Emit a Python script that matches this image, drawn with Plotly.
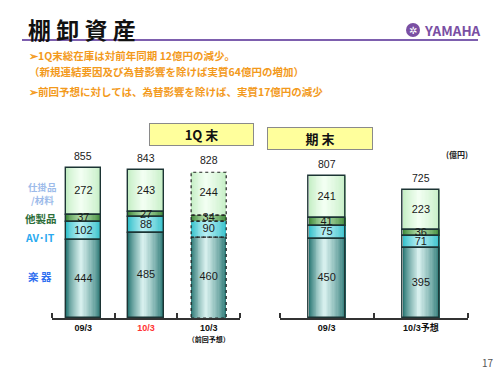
import plotly.graph_objects as go

# ---------------- data ----------------
segments = ["楽器", "AV・IT", "他製品", "仕掛品/材料"]

q1_labels = ["09/3", "<span style='color:#ff3333'>10/3</span>",
             "10/3<br><span style='font-size:7px'>（前回予想）</span>"]
q1_gakki = [444, 485, 460]
q1_avit = [102, 88, 90]
q1_other = [37, 27, 34]
q1_wip = [272, 243, 244]
q1_total = [855, 843, 828]
q1_dashed = [False, False, True]

fy_labels = ["09/3", "10/3予想"]
fy_gakki = [450, 395]
fy_avit = [75, 71]
fy_other = [41, 36]
fy_wip = [241, 223]
fy_total = [807, 725]
fy_dashed = [False, False]

# ---------------- style ----------------
JP = "Arial, 'Liberation Sans', 'Noto Sans CJK JP', sans-serif"
SEG_COLORS = [("#2a7774", "#d6efed"),   # 楽器
              ("#33bfca", "#b6eff3"),   # AV-IT
              ("#3f8a3a", "#b2dcaa"),   # 他製品
              ("#c4eec4", "#f2fff2")]   # 仕掛品
OUTLINE = "#1c3434"
NL = 16


def hex2rgb(h):
    h = h.lstrip("#")
    return [int(h[i:i + 2], 16) for i in (0, 2, 4)]


def mix(a, b, t):
    ca, cb = hex2rgb(a), hex2rgb(b)
    return "rgb(%d,%d,%d)" % tuple(round(ca[i] + (cb[i] - ca[i]) * t) for i in range(3))


fig = go.Figure()
shapes = []


def add_panel(xa, ya, series, totals, dashed, width):
    n = len(totals)
    xs = list(range(n))
    bases = []
    b = [0] * n
    for vals in series:
        bases.append(list(b))
        b = [b[i] + vals[i] for i in range(n)]
    # gradient fills
    for vals, base, (edge, center) in zip(series, bases, SEG_COLORS):
        for k in range(NL):
            wk = width * (1 - k / NL)
            t = (k / (NL - 1)) ** 0.8
            off = -width / 2 + 0.42 * (width - wk)
            fig.add_trace(go.Bar(x=xs, y=vals, base=base, width=wk, offset=off,
                                 marker=dict(color=mix(edge, center, t), line=dict(width=0)),
                                 xaxis=xa, yaxis=ya, hoverinfo="skip", showlegend=False))
    # outlines
    for vals, base in zip(series, bases):
        lw = [0 if d else 1.4 for d in dashed]
        fig.add_trace(go.Bar(x=xs, y=vals, base=base, width=width, offset=-width / 2,
                             marker=dict(color="rgba(0,0,0,0)", line=dict(width=lw, color=OUTLINE)),
                             xaxis=xa, yaxis=ya, hoverinfo="skip", showlegend=False))
        for i in xs:
            if dashed[i]:
                shapes.append(dict(type="rect", xref=xa, yref=ya,
                                   x0=i - width / 2, x1=i + width / 2,
                                   y0=base[i], y1=base[i] + vals[i],
                                   line=dict(color="#222", width=1.2, dash="dot")))
    # segment labels
    for vals, base in zip(series, bases):
        fig.add_trace(go.Scatter(x=xs, y=[base[i] + vals[i] / 2 for i in xs],
                                 text=[str(v) for v in vals], mode="text",
                                 textfont=dict(size=11, color="#1a1a1a", family=JP),
                                 xaxis=xa, yaxis=ya, hoverinfo="skip", showlegend=False))
    # totals
    for i in xs:
        fig.add_annotation(x=i, y=totals[i], xref=xa, yref=ya, text=str(totals[i]),
                           showarrow=False, yshift=12,
                           font=dict(size=10.5, color="#1a1a1a", family=JP))


add_panel("x", "y", [q1_gakki, q1_avit, q1_other, q1_wip], q1_total, q1_dashed, 0.56)
add_panel("x2", "y2", [fy_gakki, fy_avit, fy_other, fy_wip], fy_total, fy_dashed, 0.39)

Y_DOMAIN = [57 / 375, 233 / 375]
common_x = dict(showline=True, linecolor="#333", linewidth=1.5, ticks="",
                showgrid=False, zeroline=False, fixedrange=True,
                tickfont=dict(size=9, color="#111", family=JP, weight="bold"))


def xaxis_cfg(domain, labels):
    n = len(labels)
    d = dict(common_x)
    d.update(domain=domain, range=[-0.5, n - 0.5], tickmode="array",
             tickvals=list(range(n)), ticktext=labels,
             minor=dict(tickmode="array", tickvals=[i - 0.5 for i in range(n + 1)],
                        ticks="inside", ticklen=5, tickwidth=1.5, tickcolor="#333",
                        showgrid=False))
    return d


fig.update_layout(
    width=500, height=375, margin=dict(l=0, r=0, t=0, b=0),
    paper_bgcolor="white", plot_bgcolor="rgba(0,0,0,0)",
    barmode="overlay", bargap=0,
    xaxis=xaxis_cfg([52 / 500, 240 / 500], q1_labels),
    xaxis2=xaxis_cfg([279.5 / 500, 468 / 500], fy_labels),
    yaxis=dict(domain=Y_DOMAIN, range=[0, 1000], visible=False, fixedrange=True),
    yaxis2=dict(domain=Y_DOMAIN, range=[0, 1000], visible=False, fixedrange=True, anchor="x2"),
    shapes=shapes,
)
fig.update_layout(xaxis2=dict(anchor="y2"))

# ---------------- page decoration ----------------
fig.add_shape(type="line", xref="paper", yref="paper", x0=22 / 500, x1=478 / 500,
              y0=1 - 40 / 375, y1=1 - 40 / 375, line=dict(color="#7d5fae", width=2))
fig.add_shape(type="circle", xref="paper", yref="paper",
              x0=406 / 500, x1=420 / 500, y0=1 - 37 / 375, y1=1 - 23 / 375,
              fillcolor="#7a4fa3", line=dict(width=0))


def txt(x, y, text, size, color="#000", bold=False, xanchor="left", **kw):
    fig.add_annotation(x=x / 500, y=1 - y / 375, xref="paper", yref="paper",
                       text=("<b>%s</b>" % text) if bold else text, showarrow=False,
                       xanchor=xanchor, yanchor="middle",
                       font=dict(size=size, color=color, family="'Noto Sans CJK JP', sans-serif"), **kw)


txt(26, 29, "棚 卸 資 産", 23, "#111", True)
txt(422, 30, "YAMAHA", 13.5, "#7a4fa3", True)
txt(413, 30, "✲", 10, "white", False, xanchor="center")

ORANGE = "#f39a1c"
txt(27, 56, "➢1Q末総在庫は対前年同期 12億円の減少。", 10.5, ORANGE, True)
txt(27, 72, "（新規連結要因及び為替影響を除けば実質64億円の増加）", 10.5, ORANGE, True)
txt(27, 92, "➢前回予想に対しては、為替影響を除けば、実質17億円の減少", 10.5, ORANGE, True)

# panel boxes
fig.add_annotation(x=148.5 / 500, y=1 - 134.5 / 375, xref="paper", yref="paper",
                   text="<b>1Q 末</b>", showarrow=False, width=101, height=19,
                   bgcolor="#ffff9c", bordercolor="#8a8a8a", borderwidth=1,
                   font=dict(size=13, color="#111", family="'Noto Sans CJK JP', sans-serif"))
fig.add_annotation(x=373 / 500, y=1 - 138.5 / 375, xref="paper", yref="paper",
                   text="<b>期 末</b>", showarrow=False, width=102, height=19,
                   bgcolor="#ffff9c", bordercolor="#8a8a8a", borderwidth=1,
                   font=dict(size=13, color="#111", family="'Noto Sans CJK JP', sans-serif"))
txt(457, 154, "(億円)", 8, "#222", True, xanchor="center")

# segment legend labels on the left
txt(42, 187, "仕掛品", 9.5, "#9dbbea", True, xanchor="center")
txt(42, 200, "/材料", 9.5, "#9dbbea", True, xanchor="center")
txt(41, 218, "他製品", 10.5, "#2d6e3a", True, xanchor="center")
txt(40, 237, "AV･IT", 10.5, "#2aaaf0", True, xanchor="center")
txt(40, 276, "楽 器", 10.5, "#2f6ff0", True, xanchor="center")

txt(488, 362, "17", 10, "#555", False, xanchor="center")

fig.write_html("out.html", config={"displayModeBar": False},
               post_script="document.body.style.margin='0';document.body.style.overflow='hidden';")
